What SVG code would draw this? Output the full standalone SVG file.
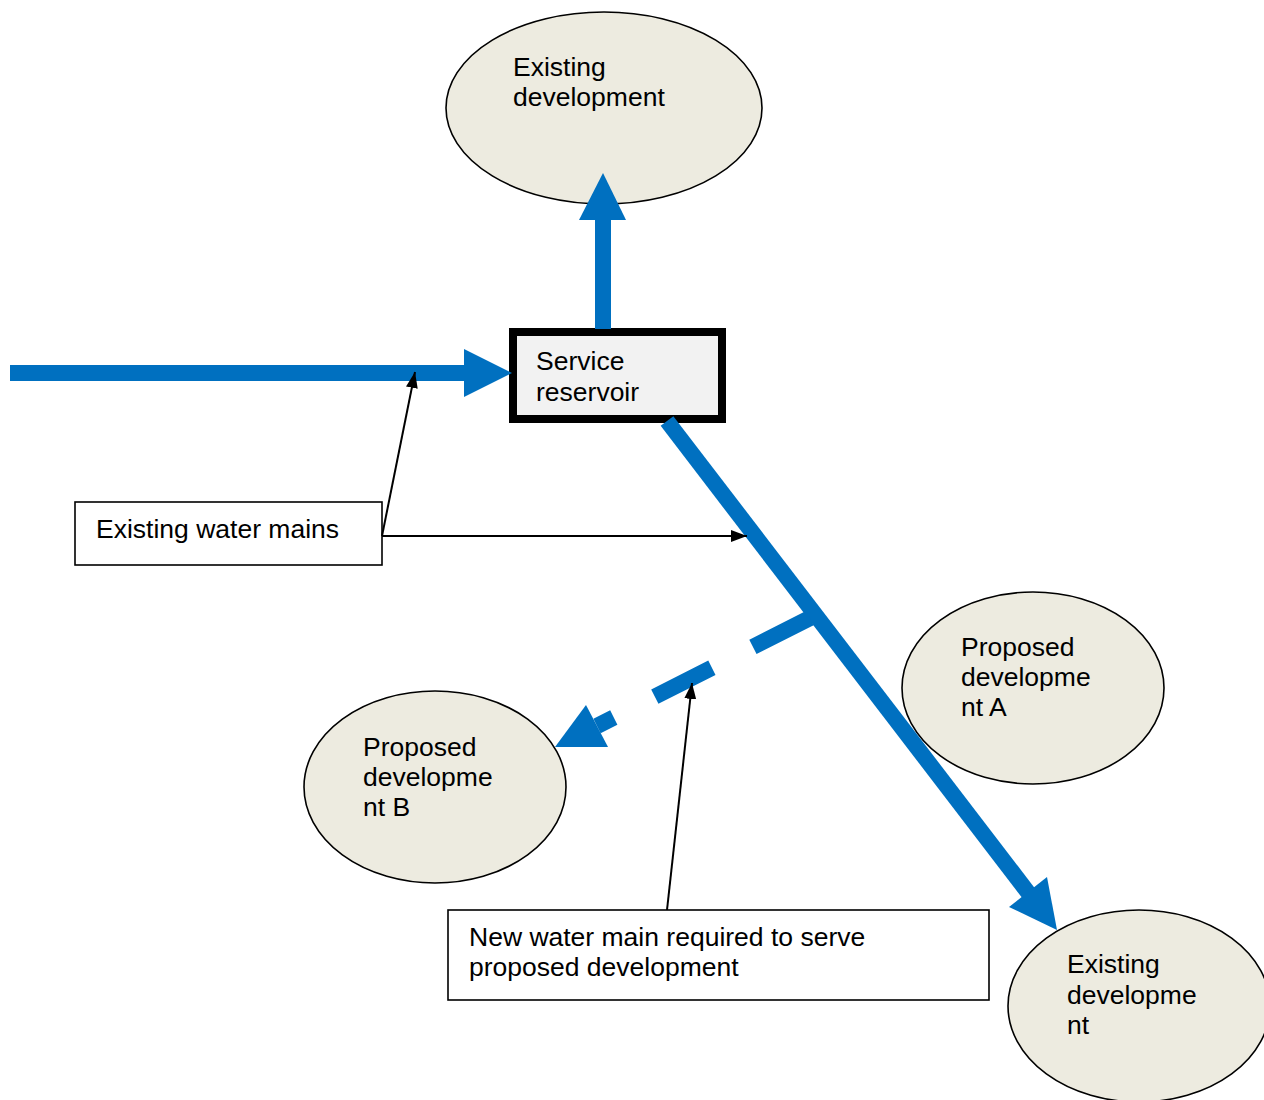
<svg xmlns="http://www.w3.org/2000/svg" width="1264" height="1100" viewBox="0 0 1264 1100">
<style>
  .ell { fill: #edebe0; stroke: #000; stroke-width: 1.6; }
  .lbl { font-family: "Liberation Sans", Arial, sans-serif; font-size: 26.5px; fill: #000; }
  .box { fill: #fff; stroke: #000; stroke-width: 1.6; }
  .pipe { stroke: #0070c0; stroke-width: 16; fill: none; }
  .head { fill: #0070c0; }
  .ptr { stroke: #000; stroke-width: 2; fill: none; marker-end: url(#blk); }
</style>
<defs>
  <marker id="blk" viewBox="0 0 16 12" refX="16" refY="6" markerWidth="16" markerHeight="12" markerUnits="userSpaceOnUse" orient="auto">
    <path d="M0,0 L16,6 L0,12 Z" fill="#000"/>
  </marker>
</defs>
<rect width="1264" height="1100" fill="#fff"/>

<g id="existing-top">
  <ellipse class="ell" cx="604" cy="108" rx="158" ry="96"/>
  <text class="lbl" x="513" y="76">Existing</text>
  <text class="lbl" x="513" y="106">development</text>
</g>

<g id="service-reservoir">
  <rect x="513" y="332" width="209" height="87" fill="#f2f2f2" stroke="#000" stroke-width="8"/>
  <text class="lbl" x="536" y="370">Service</text>
  <text class="lbl" x="536" y="401">reservoir</text>
</g>

<g id="existing-water-mains">
  <rect class="box" x="75" y="502" width="307" height="63"/>
  <text class="lbl" x="96" y="538">Existing water mains</text>
</g>

<g id="proposed-a">
  <ellipse class="ell" cx="1033" cy="688" rx="131" ry="96"/>
  <text class="lbl" x="961" y="656">Proposed</text>
  <text class="lbl" x="961" y="686">developme</text>
  <text class="lbl" x="961" y="716">nt A</text>
</g>

<g id="proposed-b">
  <ellipse class="ell" cx="435" cy="787" rx="131" ry="96"/>
  <text class="lbl" x="363" y="756">Proposed</text>
  <text class="lbl" x="363" y="786">developme</text>
  <text class="lbl" x="363" y="816">nt B</text>
</g>

<g id="new-water-main">
  <rect class="box" x="448" y="910" width="541" height="90"/>
  <text class="lbl" x="469" y="946">New water main required to serve</text>
  <text class="lbl" x="469" y="976">proposed development</text>
</g>

<g id="existing-bottom">
  <ellipse class="ell" cx="1139" cy="1006" rx="131" ry="96"/>
  <text class="lbl" x="1067" y="973">Existing</text>
  <text class="lbl" x="1067" y="1004">developme</text>
  <text class="lbl" x="1067" y="1034">nt</text>
</g>

<g id="connectors">
  <!-- incoming main -->
  <line class="pipe" x1="10" y1="373" x2="466" y2="373"/>
  <polygon class="head" points="464,349 512,373 464,397"/>
  <!-- up to existing development -->
  <line class="pipe" x1="603" y1="329" x2="603" y2="218"/>
  <polygon class="head" points="579,220 626,220 603,173"/>
  <!-- diagonal to bottom existing development -->
  <line class="pipe" x1="667" y1="421" x2="1030" y2="895"/>
  <polygon class="head" points="1047,877 1009,907 1057,930"/>
  <!-- dashed new main -->
  <line class="pipe" x1="810" y1="618" x2="597" y2="726" stroke-dasharray="64 46"/>
  <polygon class="head" points="608,747 586,705 555,747"/>
  <!-- pointers -->
  <line class="ptr" x1="382" y1="536" x2="415" y2="372"/>
  <line class="ptr" x1="382" y1="536" x2="747" y2="536"/>
  <line class="ptr" x1="667" y1="910" x2="692" y2="683"/>
</g>
</svg>
